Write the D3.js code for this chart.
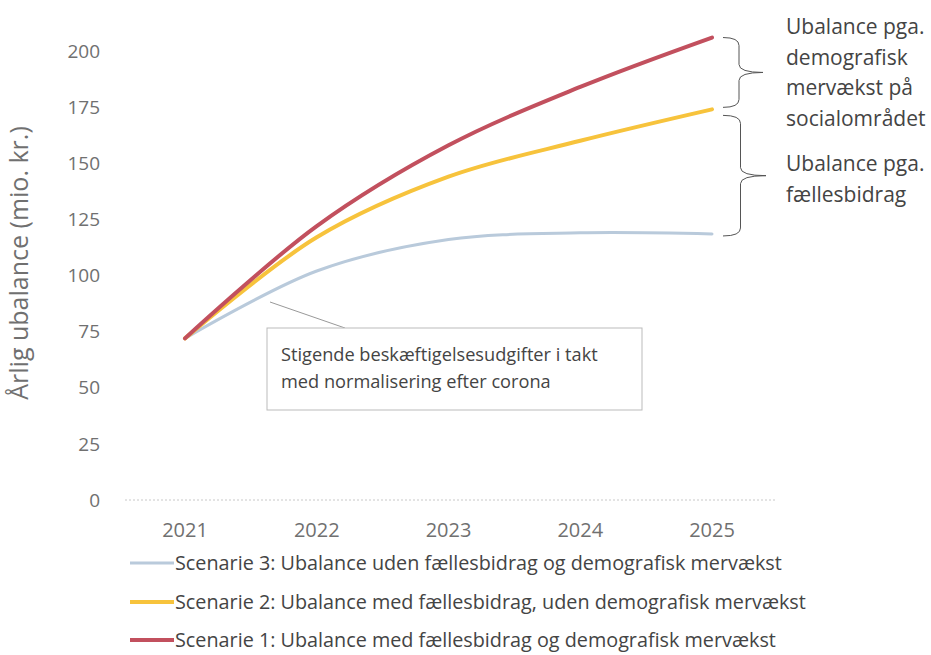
<!DOCTYPE html>
<html>
<head>
<meta charset="utf-8">
<script src="https://cdn.jsdelivr.net/npm/d3@7/dist/d3.min.js"></script>
<style>
body { margin: 0; background: #fff; }
text { font-family: "Open Sans", "Noto Sans", sans-serif; }
</style>
</head>
<body>
<svg id="chart" width="931" height="655"></svg>
<script>
// data
var years = [2021, 2022, 2023, 2024, 2025];
var scen1 = [72, 122, 158, 184, 206];
var scen2 = [72, 117, 144, 160, 174];
var scen3 = [72, 102, 116, 119, 118.5];
var yTicks = [0, 25, 50, 75, 100, 125, 150, 175, 200];

var seriesNames = [
  "Scenarie 3: Ubalance uden fællesbidrag og demografisk mervækst",
  "Scenarie 2: Ubalance med fællesbidrag, uden demografisk mervækst",
  "Scenarie 1: Ubalance med fællesbidrag og demografisk mervækst"
];
var seriesColors = ["#b9cadb", "#f7c33c", "#c2505e"];
var seriesWidths = [3, 4, 4];
var seriesValues = [scen3, scen2, scen1];

var svg = d3.select("#chart");

var x = d3.scalePoint().domain(years).range([185, 712]);
var y = d3.scaleLinear().domain([0, 200]).range([500, 51]);

// baseline (dotted)
svg.append("line")
  .attr("x1", 125).attr("x2", 776)
  .attr("y1", y(0)).attr("y2", y(0))
  .attr("stroke", "#c8c8c8").attr("stroke-width", 1)
  .attr("stroke-dasharray", "2,2");

// y tick labels
svg.append("g").selectAll("text")
  .data(yTicks).enter().append("text")
    .attr("x", 100).attr("y", d => y(d))
    .attr("dy", "0.35em")
    .attr("text-anchor", "end")
    .attr("font-size", 19)
    .attr("fill", "#707070")
    .text(d => d);

// x tick labels
svg.append("g").selectAll("text")
  .data(years).enter().append("text")
    .attr("x", d => x(d)).attr("y", 530)
    .attr("dy", "0.35em")
    .attr("text-anchor", "middle")
    .attr("font-size", 20)
    .attr("fill", "#707070")
    .text(d => d);

// y axis title
svg.append("text")
  .attr("transform", "translate(19,263) rotate(-90)")
  .attr("text-anchor", "middle")
  .attr("dy", "0.35em")
  .attr("font-size", 25)
  .attr("fill", "#707070")
  .text("Årlig ubalance (mio. kr.)");

// lines
var line = d3.line()
  .x((d, i) => x(years[i]))
  .y(d => y(d))
  .curve(d3.curveCatmullRom.alpha(0.5));

svg.append("g").selectAll("path")
  .data(seriesValues).enter().append("path")
    .attr("d", d => line(d))
    .attr("fill", "none")
    .attr("stroke", (d, i) => seriesColors[i])
    .attr("stroke-width", (d, i) => seriesWidths[i])
    .attr("stroke-linecap", "round");

// annotation box with leader line
svg.append("line")
  .attr("x1", 270).attr("y1", 302).attr("x2", 345).attr("y2", 328)
  .attr("stroke", "#999").attr("stroke-width", 1);
svg.append("rect")
  .attr("x", 267).attr("y", 328).attr("width", 375).attr("height", 82)
  .attr("fill", "#fff").attr("stroke", "#bbb").attr("stroke-width", 1);
svg.append("text")
  .attr("x", 281).attr("y", 355).attr("dy", "0.35em")
  .attr("font-size", 18.2).attr("fill", "#444")
  .text("Stigende beskæftigelsesudgifter i takt");
svg.append("text")
  .attr("x", 281).attr("y", 382).attr("dy", "0.35em")
  .attr("font-size", 18.2).attr("fill", "#444")
  .text("med normalisering efter corona");

// curly braces on the right
function brace(y0, y1, xl, xr) {
  var m = (y0 + y1) / 2, xm = (xl + xr) / 2 - 4;
  return "M" + xl + "," + y0 +
    " Q" + (xm) + "," + y0 + " " + (xm) + "," + (y0 + 8) +
    " L" + xm + "," + (m - 8) +
    " Q" + xm + "," + m + " " + xr + "," + m +
    " Q" + xm + "," + m + " " + xm + "," + (m + 8) +
    " L" + xm + "," + (y1 - 8) +
    " Q" + xm + "," + y1 + " " + xl + "," + y1;
}
svg.append("path")
  .attr("d", brace(y(206), y(174) - 2, 723, 763))
  .attr("fill", "none").attr("stroke", "#555").attr("stroke-width", 1);
svg.append("path")
  .attr("d", brace(y(174) + 6, y(118.5) + 2, 723, 766))
  .attr("fill", "none").attr("stroke", "#555").attr("stroke-width", 1);

var rightNotes = [
  ["Ubalance pga.", "demografisk", "mervækst på", "socialområdet"],
  ["Ubalance pga.", "fællesbidrag"]
];
var noteTop = [27, 164];
rightNotes.forEach(function(lines, k) {
  svg.append("g").selectAll("text")
    .data(lines).enter().append("text")
      .attr("x", 786).attr("y", (d, i) => noteTop[k] + i * 30.5)
      .attr("dy", "0.35em")
      .attr("font-size", 21)
      .attr("fill", "#444")
      .text(d => d);
});

// legend
var legendY = [563, 602, 640];
var leg = svg.append("g").selectAll("g")
  .data(seriesNames).enter().append("g");
leg.append("line")
  .attr("x1", 130).attr("x2", 174)
  .attr("y1", (d, i) => legendY[i]).attr("y2", (d, i) => legendY[i])
  .attr("stroke", (d, i) => seriesColors[i])
  .attr("stroke-width", (d, i) => seriesWidths[i]);
leg.append("text")
  .attr("x", 175).attr("y", (d, i) => legendY[i])
  .attr("dy", "0.35em")
  .attr("font-size", 19.8)
  .attr("fill", "#444")
  .text(d => d);
</script>
</body>
</html>
